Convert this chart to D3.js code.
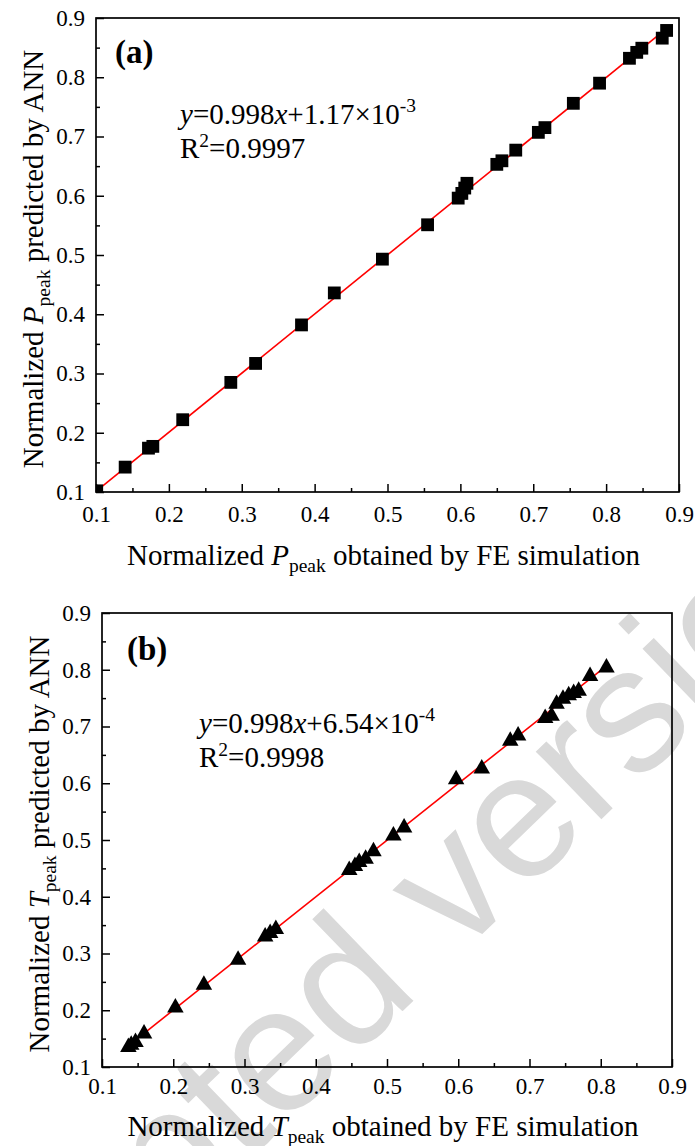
<!DOCTYPE html>
<html><head><meta charset="utf-8">
<script src="https://cdn.jsdelivr.net/npm/d3@7"></script>
<style>body{margin:0;background:#fff}svg{display:block}</style>
</head><body>
<svg id="chart" width="695" height="1146"></svg>
<script>
// ---------- data ----------
const majorTicks = [0.1, 0.2, 0.3, 0.4, 0.5, 0.6, 0.7, 0.8, 0.9];
const minorTicks = [0.15, 0.25, 0.35, 0.45, 0.55, 0.65, 0.75, 0.85];

// panel (a): normalized P_peak
const pFE  = [0.101, 0.140, 0.172, 0.178, 0.219, 0.285, 0.319, 0.382, 0.427, 0.493, 0.555, 0.597, 0.602, 0.606, 0.609, 0.650, 0.657, 0.676, 0.707, 0.716, 0.755, 0.791, 0.832, 0.842, 0.849, 0.877, 0.883];
const pANN = [0.102, 0.142, 0.174, 0.177, 0.222, 0.285, 0.317, 0.382, 0.436, 0.493, 0.551, 0.596, 0.604, 0.613, 0.621, 0.653, 0.659, 0.677, 0.707, 0.715, 0.756, 0.790, 0.832, 0.842, 0.849, 0.866, 0.879];
const fitA = [0.998, 1.17e-3];      // slope, intercept
const fitRangeA = [0.1, 0.884];

// panel (b): normalized T_peak
const tFE  = [0.137, 0.141, 0.147, 0.159, 0.203, 0.243, 0.291, 0.329, 0.336, 0.344, 0.447, 0.455, 0.461, 0.470, 0.481, 0.509, 0.524, 0.597, 0.633, 0.673, 0.684, 0.722, 0.731, 0.738, 0.747, 0.755, 0.762, 0.769, 0.785, 0.808];
const tANN = [0.139, 0.143, 0.148, 0.163, 0.209, 0.249, 0.293, 0.334, 0.340, 0.347, 0.451, 0.458, 0.465, 0.471, 0.484, 0.512, 0.526, 0.611, 0.630, 0.679, 0.688, 0.719, 0.723, 0.744, 0.753, 0.759, 0.763, 0.767, 0.793, 0.808];
const fitB = [0.998, 6.54e-4];
const fitRangeB = [0.141, 0.808];

// ---------- drawing ----------
const svg = d3.select('#chart');
const SERIF = "'Liberation Serif','Times New Roman',serif";

// watermark (beneath)
svg.append('text')
  .attr('transform', 'translate(379,1034) rotate(-44)')
  .attr('text-anchor', 'middle')
  .style('font-family', "'Liberation Sans',Arial,sans-serif")
  .style('font-size', '178px')
  .attr('fill', '#d9d9d9')
  .text('Accepted version');

function panel(o) {
  const x = d3.scaleLinear().domain([0.1, 0.9]).range([o.left, o.right]);
  const y = d3.scaleLinear().domain([0.1, 0.9]).range([o.bottom, o.top]);
  const g = svg.append('g');
  const id = 'clip' + o.label;
  g.append('clipPath').attr('id', id).append('rect')
    .attr('x', o.left).attr('y', o.top).attr('width', o.right - o.left).attr('height', o.bottom - o.top);

  // fit line
  g.append('path')
    .datum(o.range)
    .attr('d', d3.line().x(d => x(d)).y(d => y(o.fit[0] * d + o.fit[1])))
    .attr('stroke', '#ff0000').attr('stroke-width', 1.6).attr('fill', 'none');

  // markers
  const pts = o.xs.map((v, i) => [v, o.ys[i]]);
  const mk = g.append('g').attr('clip-path', `url(#${id})`);
  if (o.marker === 'square') {
    const s = 12.8;
    mk.selectAll('rect').data(pts).join('rect')
      .attr('x', d => x(d[0]) - s / 2).attr('y', d => y(d[1]) - s / 2)
      .attr('width', s).attr('height', s).attr('fill', '#000');
  } else {
    const w = 16.5, h = 14.5;
    mk.selectAll('path').data(pts).join('path')
      .attr('d', d => `M${x(d[0])},${y(d[1]) - h / 2}L${x(d[0]) + w / 2},${y(d[1]) + h / 2}L${x(d[0]) - w / 2},${y(d[1]) + h / 2}Z`)
      .attr('fill', '#000');
  }

  // axes
  const fmt = d3.format('.1f');
  g.append('g').attr('transform', `translate(0,${o.bottom})`)
    .call(d3.axisBottom(x).tickValues(majorTicks).tickSize(-8).tickSizeOuter(0).tickPadding(o.xPad).tickFormat(fmt));
  g.append('g').attr('transform', `translate(0,${o.bottom})`)
    .call(d3.axisBottom(x).tickValues(minorTicks).tickSize(-4).tickSizeOuter(0).tickFormat(''));
  g.append('g').attr('transform', `translate(${o.left},0)`)
    .call(d3.axisLeft(y).tickValues(majorTicks).tickSize(-8).tickSizeOuter(0).tickPadding(11).tickFormat(fmt));
  g.append('g').attr('transform', `translate(${o.left},0)`)
    .call(d3.axisLeft(y).tickValues(minorTicks).tickSize(-4).tickSizeOuter(0).tickFormat(''));
  g.selectAll('.domain').remove();
  g.selectAll('.tick line').attr('stroke', '#000').attr('stroke-width', 1.5);
  g.selectAll('.tick text').style('font-family', SERIF).style('font-size', '23px').attr('fill', '#000');

  // frame
  g.append('rect').attr('x', o.left).attr('y', o.top)
    .attr('width', o.right - o.left).attr('height', o.bottom - o.top)
    .attr('fill', 'none').attr('stroke', '#000').attr('stroke-width', 1.7);

  // x title
  const xt = g.append('text').attr('x', (o.left + o.right) / 2 - 4).attr('y', o.bottom + o.xTitleOff)
    .attr('text-anchor', 'middle').style('font-family', SERIF).style('font-size', '29px');
  xt.append('tspan').text('Normalized ');
  xt.append('tspan').style('font-style', 'italic').text(o.sym);
  xt.append('tspan').attr('dy', 7).style('font-size', '19.5px').text('peak');
  xt.append('tspan').attr('dy', -7).text(' obtained by FE simulation');

  // y title
  const yt = g.append('text')
    .attr('transform', `translate(${o.yTitleX},${(o.top + o.bottom) / 2 + 4}) rotate(-90)`)
    .attr('text-anchor', 'middle').style('font-family', SERIF).style('font-size', '29px');
  yt.append('tspan').text('Normalized ');
  yt.append('tspan').style('font-style', 'italic').text(o.sym);
  yt.append('tspan').attr('dy', 7).style('font-size', '19.5px').text('peak');
  yt.append('tspan').attr('dy', -7).text(' predicted by ANN');

  // panel label
  g.append('text').attr('x', o.labX).attr('y', o.labY)
    .style('font-family', SERIF).style('font-size', '33px').style('font-weight', 'bold')
    .text(`(${o.label})`);

  // equation
  const eq = g.append('text').attr('x', o.eqX).attr('y', o.eqY)
    .style('font-family', SERIF).style('font-size', '29px');
  eq.append('tspan').style('font-style', 'italic').text('y');
  eq.append('tspan').text('=' + o.fit[0].toFixed(3));
  eq.append('tspan').style('font-style', 'italic').text('x');
  eq.append('tspan').text('+' + o.coef + '×10');
  eq.append('tspan').attr('dy', -12).style('font-size', '19.5px').text(o.exp);

  const r2 = g.append('text').attr('x', o.eqX).attr('y', o.eqY + 34)
    .style('font-family', SERIF).style('font-size', '29px');
  r2.append('tspan').text('R');
  r2.append('tspan').attr('dy', -11).style('font-size', '19.5px').text('2');
  r2.append('tspan').attr('dy', 11).text('=' + o.r2);
}

panel({label: 'a', sym: 'P', left: 96, right: 679, top: 18, bottom: 492,
  xs: pFE, ys: pANN, fit: fitA, range: fitRangeA, marker: 'square',
  xPad: 14, xTitleOff: 73, yTitleX: 43,
  labX: 115, labY: 63, eqX: 180, eqY: 124, coef: '1.17', exp: '-3', r2: '0.9997'});

panel({label: 'b', sym: 'T', left: 102, right: 672, top: 613, bottom: 1067,
  xs: tFE, ys: tANN, fit: fitB, range: fitRangeB, marker: 'triangle',
  xPad: 11, xTitleOff: 69, yTitleX: 49,
  labX: 127, labY: 660, eqX: 199, eqY: 733, coef: '6.54', exp: '-4', r2: '0.9998'});
</script>
</body></html>
